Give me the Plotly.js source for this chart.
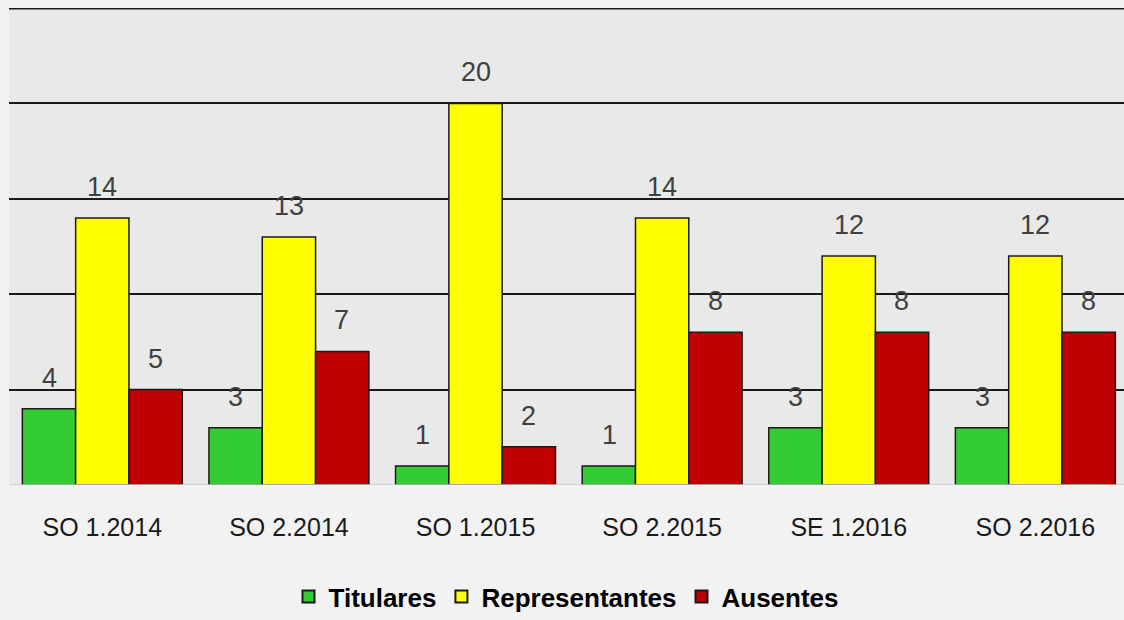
<!DOCTYPE html>
<html>
<head>
<meta charset="utf-8">
<script src="https://cdn.plot.ly/plotly-3.0.1.min.js"></script>
<style>
  html, body { margin: 0; padding: 0; background: #f2f2f2; }
  #plot { width: 1124px; height: 620px; }
</style>
</head>
<body>
<div id="plot"></div>
<script>
// sessions on the x axis
var sesiones = ["SO 1.2014", "SO 2.2014", "SO 1.2015", "SO 2.2015", "SE 1.2016", "SO 2.2016"];

// counts per group
var titulares = [4, 3, 1, 1, 3, 3];
var representantes = [14, 13, 20, 14, 12, 12];
var ausentes = [5, 7, 2, 8, 8, 8];

var series = [
  {name: "Titulares", values: titulares, color: "#33cc33"},
  {name: "Representantes", values: representantes, color: "#ffff00"},
  {name: "Ausentes", values: ausentes, color: "#c00000"}
];

var data = series.map(s => ({
  type: "bar",
  name: s.name,
  x: sesiones,
  y: s.values,
  marker: {color: s.color, line: {color: "#1a1a1a", width: 1.5}},
  hoverinfo: "x+y+name"
}));

// value labels above bars, shifted to each bar of the group
var barPx = 53;
var annotations = [];
series.forEach((s, i) => {
  s.values.forEach((v, j) => {
    annotations.push({
      x: sesiones[j], y: v, xref: "x", yref: "y",
      text: String(v), showarrow: false,
      xanchor: "center", yanchor: "bottom",
      xshift: (i - 1) * barPx, yshift: 14,
      font: {family: "Liberation Sans, Arial, sans-serif", size: 27, color: "#404040"}
    });
  });
});

var layout = {
  width: 1124,
  height: 620,
  margin: {l: 9, r: 0, t: 8, b: 135, autoexpand: false},
  paper_bgcolor: "#f2f2f2",
  plot_bgcolor: "#e9e9e9",
  barmode: "group",
  bargap: 0.143,
  bargroupgap: 0,
  font: {family: "Liberation Sans, Arial, sans-serif", color: "#1a1a1a"},
  xaxis: {
    type: "category",
    range: [-0.5, 5.475],
    showgrid: false,
    zeroline: false,
    showline: false,
    ticks: "",
    tickfont: {size: 25, color: "#1a1a1a"},
    ticklabelstandoff: 25
  },
  yaxis: {
    range: [0, 25],
    dtick: 5,
    showgrid: true,
    gridcolor: "#1a1a1a",
    gridwidth: 1.5,
    zeroline: false,
    showticklabels: false,
    ticks: ""
  },
  shapes: [
    {type: "line", xref: "paper", yref: "y", x0: 0, x1: 1, y0: 25, y1: 25,
     line: {color: "#1a1a1a", width: 3}},
    {type: "line", xref: "paper", yref: "y", x0: 0, x1: 1, y0: 0, y1: 0,
     line: {color: "#c8c8c8", width: 1.5}}
  ],
  annotations: annotations,
  showlegend: true,
  legend: {
    orientation: "h",
    x: 0.5, xanchor: "center",
    yref: "container",
    y: 0.0, yanchor: "bottom",
    font: {size: 26, color: "#000000", weight: "bold"},
    itemsizing: "constant",
    traceorder: "normal"
  }
};

Plotly.newPlot("plot", data, layout, {displayModeBar: false});
</script>
</body>
</html>
